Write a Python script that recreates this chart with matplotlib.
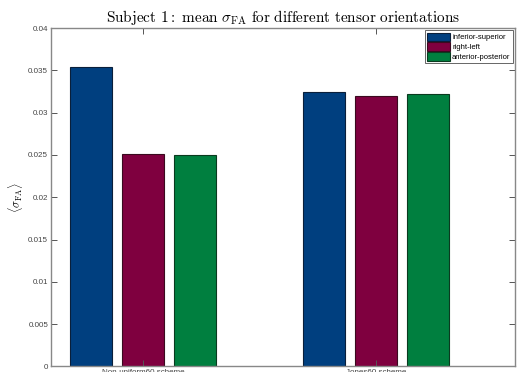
import matplotlib
matplotlib.use("Agg")
import matplotlib.pyplot as plt
import numpy as np

plt.rcParams["mathtext.fontset"] = "cm"
plt.rcParams["font.family"] = ["Liberation Sans", "DejaVu Sans"]

schemes = ["Non-uniform60 scheme", "Jones60 scheme"]
orientations = ["inferior-superior", "right-left", "anterior-posterior"]
colors = ["#003f7f", "#7f003f", "#007f3f"]
edges = ["#0a1f3a", "#3a0a1f", "#0a3a1f"]
values = {
    "inferior-superior": [0.03544, 0.03241],
    "right-left": [0.02508, 0.03202],
    "anterior-posterior": [0.02496, 0.03218],
}

fig = plt.figure(figsize=(5.19, 3.72), dpi=100)
ax = fig.add_axes([0.0983, 0.0148, 0.8940, 0.9099])

x = np.arange(1, len(schemes) + 1)
offset = 0.222
width = 0.18
for i, name in enumerate(orientations):
    ax.bar(x + (i - 1) * offset, values[name], width, color=colors[i],
           edgecolor=edges[i], linewidth=0.8, label=name)

ax.set_xlim(0.605, 2.597)
ax.set_ylim(0, 0.04)
ax.set_yticks(np.arange(0, 0.0401, 0.005))
ax.set_yticklabels(["0", "0.005", "0.01", "0.015", "0.02", "0.025", "0.03", "0.035", "0.04"])
ax.set_xticks(x)
ax.set_xticklabels(schemes)
ax.tick_params(direction="in", length=4, width=0.7, colors="#555555",
               labelsize=5.8, labelcolor="#444444", top=True, right=True, pad=2)
for s in ax.spines.values():
    s.set_color("#888888")
    s.set_linewidth(1.0)

ax.set_title(r"$\mathrm{Subject\ 1{:}\ mean\ }\sigma_{\mathrm{FA}}\mathrm{\ for\ different\ tensor\ orientations}$",
             fontsize=11, pad=4)
ax.set_ylabel(r"$\langle\sigma_{\mathrm{FA}}\rangle$", fontsize=8.5, labelpad=2)

leg = ax.legend(loc="upper right", fontsize=5.5, fancybox=False, framealpha=1,
                edgecolor="#666666", handlelength=3.0, handleheight=1.3,
                handletextpad=0.3, borderpad=0.3, labelspacing=0.15,
                borderaxespad=0.3)
leg.get_frame().set_linewidth(0.7)

fig.savefig("out.png", dpi=100)
